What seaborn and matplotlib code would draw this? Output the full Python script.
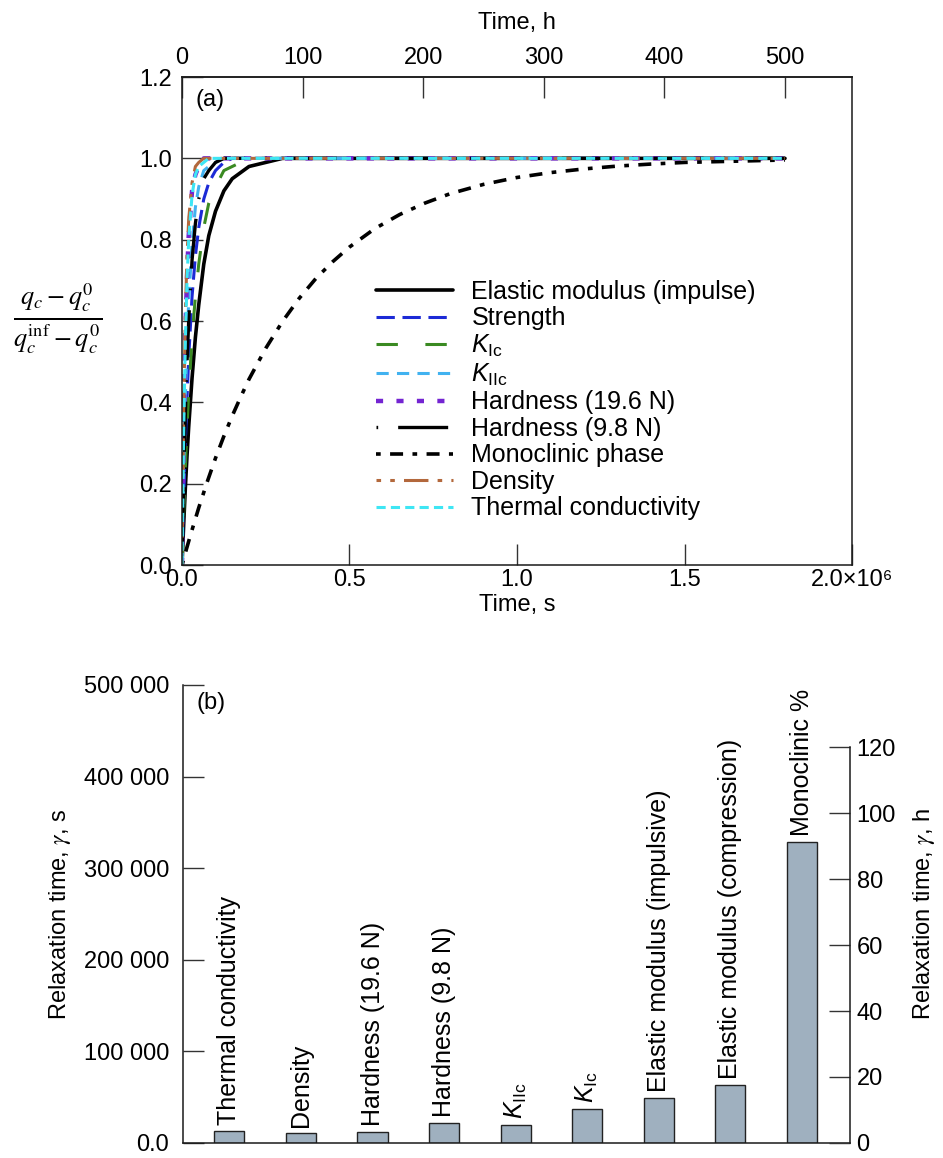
import numpy as np
import pandas as pd
import matplotlib
matplotlib.use("Agg")
import matplotlib.pyplot as plt
import seaborn as sns

# ---------------- data: panel (a) ----------------
time_s = [0, 5e3, 1e4, 1.5e4, 2e4, 3e4, 4e4, 5e4, 6.5e4, 8e4, 1e5, 1.25e5, 1.5e5,
          2e5, 2.5e5, 3e5, 4e5, 5e5, 6.5e5, 8e5, 1e6, 1.2e6, 1.4e6, 1.6e6, 1.8e6]

elastic = [0, 0.10, 0.19, 0.27, 0.34, 0.46, 0.56, 0.64, 0.74, 0.81, 0.87, 0.92, 0.95,
           0.98, 0.99, 1.0, 1.0, 1.0, 1.0, 1.0, 1.0, 1.0, 1.0, 1.0, 1.0]
strength = [0, 0.16, 0.30, 0.41, 0.51, 0.66, 0.76, 0.83, 0.90, 0.94, 0.97, 0.99, 1.0,
            1.0, 1.0, 1.0, 1.0, 1.0, 1.0, 1.0, 1.0, 1.0, 1.0, 1.0, 1.0]
k_ic = [0, 0.13, 0.24, 0.34, 0.42, 0.56, 0.66, 0.74, 0.83, 0.89, 0.93, 0.97, 0.98,
        1.0, 1.0, 1.0, 1.0, 1.0, 1.0, 1.0, 1.0, 1.0, 1.0, 1.0, 1.0]
k_iic = [0, 0.23, 0.41, 0.54, 0.65, 0.79, 0.88, 0.93, 0.97, 0.98, 0.99, 1.0, 1.0,
         1.0, 1.0, 1.0, 1.0, 1.0, 1.0, 1.0, 1.0, 1.0, 1.0, 1.0, 1.0]
hard_196 = [0, 0.34, 0.57, 0.71, 0.81, 0.92, 0.96, 0.98, 1.0, 1.0, 1.0, 1.0, 1.0,
            1.0, 1.0, 1.0, 1.0, 1.0, 1.0, 1.0, 1.0, 1.0, 1.0, 1.0, 1.0]
hard_98 = [0, 0.20, 0.37, 0.50, 0.60, 0.75, 0.84, 0.90, 0.95, 0.97, 0.99, 1.0, 1.0,
           1.0, 1.0, 1.0, 1.0, 1.0, 1.0, 1.0, 1.0, 1.0, 1.0, 1.0, 1.0]
density = [0, 0.38, 0.62, 0.76, 0.85, 0.94, 0.98, 0.99, 1.0, 1.0, 1.0, 1.0, 1.0,
           1.0, 1.0, 1.0, 1.0, 1.0, 1.0, 1.0, 1.0, 1.0, 1.0, 1.0, 1.0]
thermal = [0, 0.33, 0.55, 0.70, 0.80, 0.91, 0.96, 0.98, 0.99, 1.0, 1.0, 1.0, 1.0,
           1.0, 1.0, 1.0, 1.0, 1.0, 1.0, 1.0, 1.0, 1.0, 1.0, 1.0, 1.0]

mono_time_s = [0, 1e4, 2.5e4, 5e4, 7.5e4, 1e5, 1.25e5, 1.5e5, 1.75e5, 2e5, 2.5e5, 3e5,
               3.5e5, 4e5, 4.5e5, 5e5, 5.75e5, 6.5e5, 7.25e5, 8e5, 9e5, 1e6, 1.1e6,
               1.2e6, 1.3e6, 1.4e6, 1.5e6, 1.6e6, 1.7e6, 1.8e6]
monoclinic = [0, 0.030, 0.073, 0.141, 0.204, 0.263, 0.317, 0.367, 0.413, 0.457, 0.533,
              0.599, 0.656, 0.705, 0.746, 0.782, 0.827, 0.862, 0.890, 0.913, 0.936,
              0.953, 0.965, 0.974, 0.981, 0.986, 0.990, 0.992, 0.994, 0.996]

series_labels = ["Elastic modulus (impulse)", "Strength", r"$K_{\mathrm{Ic}}$",
                 r"$K_{\mathrm{IIc}}$", "Hardness (19.6 N)", "Hardness (9.8 N)",
                 "Monoclinic phase", "Density", "Thermal conductivity"]

# ---------------- data: panel (b) ----------------
bar_labels = ["Thermal conductivity", "Density", "Hardness (19.6 N)", "Hardness (9.8 N)",
              r"$K_{\mathrm{IIc}}$", r"$K_{\mathrm{Ic}}$", "Elastic modulus (impulsive)",
              "Elastic modulus (compression)", "Monoclinic %"]
bar_values = [12600, 10400, 11900, 21900, 19100, 36700, 48600, 63700, 328400]

top_ticks_h = [0, 100, 200, 300, 400, 500]
bottom_ticks_s = [0, 0.5e6, 1.0e6, 1.5e6, 2.0e6]
bottom_ticklabels = ["0.0", "0.5", "1.0", "1.5", "2.0×10⁶"]
left_ticks_a = [0, 0.2, 0.4, 0.6, 0.8, 1.0, 1.2]
left_ticklabels_a = ["0.0", "0.2", "0.4", "0.6", "0.8", "1.0", "1.2"]
left_ticks_b = [0, 100000, 200000, 300000, 400000, 500000]
left_ticklabels_b = ["0.0", "100 000", "200 000", "300 000", "400 000", "500 000"]
right_ticks_h = [0, 20, 40, 60, 80, 100, 120]

# ---------------- style ----------------
sns.set_theme(style="ticks")
plt.rcParams["font.family"] = ["Liberation Sans", "DejaVu Sans"]
plt.rcParams["mathtext.fontset"] = "custom"
plt.rcParams["mathtext.rm"] = "Liberation Sans"
plt.rcParams["mathtext.it"] = "Liberation Sans:italic"
plt.rcParams["mathtext.bf"] = "Liberation Sans:bold"
for k in ["text.color", "axes.labelcolor", "xtick.color", "ytick.color"]:
    plt.rcParams[k] = "black"
plt.rcParams["axes.edgecolor"] = "#1a1a1a"
plt.rcParams["axes.linewidth"] = 1.1

FS = 17
FS_BIG = 18
TICKC = "#333333"
fig = plt.figure(figsize=(9.43, 11.58), dpi=100)

# ================= panel (a) =================
ax = fig.add_axes([0.193, 0.512, 0.7105, 0.4215])

styles = [
    (time_s, elastic, "#000000", 2.6, None),
    (time_s, strength, "#1c2ad6", 2.2, (6, 2.5)),
    (time_s, k_ic, "#3a8a22", 2.2, (7, 9)),
    (time_s, k_iic, "#41b2f0", 2.2, (4, 2.7)),
    (time_s, hard_196, "#7424d2", 3.2, (1.6, 3.0)),
    (time_s, hard_98, "#000000", 2.4, (0.5, 6, 15, 6)),
    (mono_time_s, monoclinic, "#000000", 2.6, (1.3, 2.6, 3.6, 2.6)),
    (time_s, density, "#b3683c", 2.2, (1.5, 3, 1.5, 3, 8, 3)),
    (time_s, thermal, "#3ee6f4", 2.2, (3, 1.7)),
]

handles = []
for lab, (tt, vals, col, lw, dash) in zip(series_labels, styles):
    sns.lineplot(x=tt, y=vals, ax=ax, color=col, linewidth=lw, label=lab,
                 estimator=None, sort=False)
    ln = ax.lines[-1]
    if dash is not None:
        ln.set_dashes(dash)
    handles.append(ln)

ax.set_xlim(0, 2.0e6)
ax.set_ylim(0, 1.2)
ax.set_xticks(bottom_ticks_s)
ax.set_xticklabels(bottom_ticklabels)
ax.set_yticks(left_ticks_a)
ax.set_yticklabels(left_ticklabels_a)
ax.tick_params(axis="both", direction="in", length=15, width=1, labelsize=FS,
               color=TICKC)
ax.tick_params(axis="x", pad=3)
ax.tick_params(axis="y", pad=7)
ax.set_xlabel("Time, s", fontsize=FS, labelpad=2)
ax.set_ylabel("")
for s in ax.spines.values():
    s.set_visible(True)

sec = ax.secondary_xaxis("top", functions=(lambda s: np.asarray(s) / 3600.0,
                                           lambda h: np.asarray(h) * 3600.0))
sec.set_xticks(top_ticks_h)
sec.tick_params(direction="in", length=15, width=1, labelsize=FS, pad=6, color=TICKC)
sec.set_xlabel("Time, h", fontsize=FS, labelpad=13)

ax.text(0.02, 0.975, "(a)", transform=ax.transAxes, ha="left", va="top", fontsize=FS)

if ax.get_legend() is not None:
    ax.get_legend().remove()
ax.legend(handles=handles, labels=series_labels, loc="center left",
          bbox_to_anchor=(0.282, 0.338), frameon=False, fontsize=FS_BIG,
          handlelength=3.1, handletextpad=0.72, labelspacing=0.1, borderaxespad=0,
          borderpad=0.2)

fig.text(0.0615, 0.7254, r"$\frac{q_c-q_c^0}{q_c^{\mathrm{inf}}-q_c^0}$",
         math_fontfamily="stix", fontsize=27, ha="center", va="center")

# ================= panel (b) =================
axb = fig.add_axes([0.194, 0.013, 0.707, 0.3955])
df = pd.DataFrame({"prop": [f"p{i}" for i in range(len(bar_values))],
                   "value": bar_values})
sns.barplot(data=df, x="prop", y="value", ax=axb, color="#9fb0bf", saturation=1,
            width=0.42, edgecolor="#222222", linewidth=1.0)
axb.set_xlim(-0.65, 8.67)
axb.set_ylim(0, 500000)
axb.set_xticks([])
axb.set_xlabel("")
axb.set_yticks(left_ticks_b)
axb.set_yticklabels(left_ticklabels_b)
axb.tick_params(axis="y", direction="in", length=15, width=1, labelsize=FS, pad=10,
                color=TICKC)
axb.set_ylabel(r"Relaxation time, $\gamma$, s", fontsize=FS, labelpad=8,
               math_fontfamily="stix")
axb.spines["top"].set_visible(False)
axb.spines["right"].set_visible(False)

for i, (lab, v) in enumerate(zip(bar_labels, bar_values)):
    axb.text(i, v + 6500, lab, rotation=90, ha="center", va="bottom", fontsize=FS_BIG,
             clip_on=False)

axb.text(0.02, 0.985, "(b)", transform=axb.transAxes, ha="left", va="top", fontsize=FS)

axr = axb.twinx()
axr.set_ylim(0, 500000 / 3600.0)
axr.set_yticks(right_ticks_h)
axr.tick_params(axis="y", direction="in", length=15, width=1, labelsize=FS, pad=5,
                color=TICKC)
axr.spines["right"].set_bounds(0, 120)
axr.spines["top"].set_visible(False)
axr.spines["left"].set_visible(False)
axr.spines["bottom"].set_visible(False)
axr.set_ylabel(r"Relaxation time, $\gamma$, h", fontsize=FS, labelpad=11,
               math_fontfamily="stix")

fig.savefig("out.png", dpi=100, facecolor="white")
